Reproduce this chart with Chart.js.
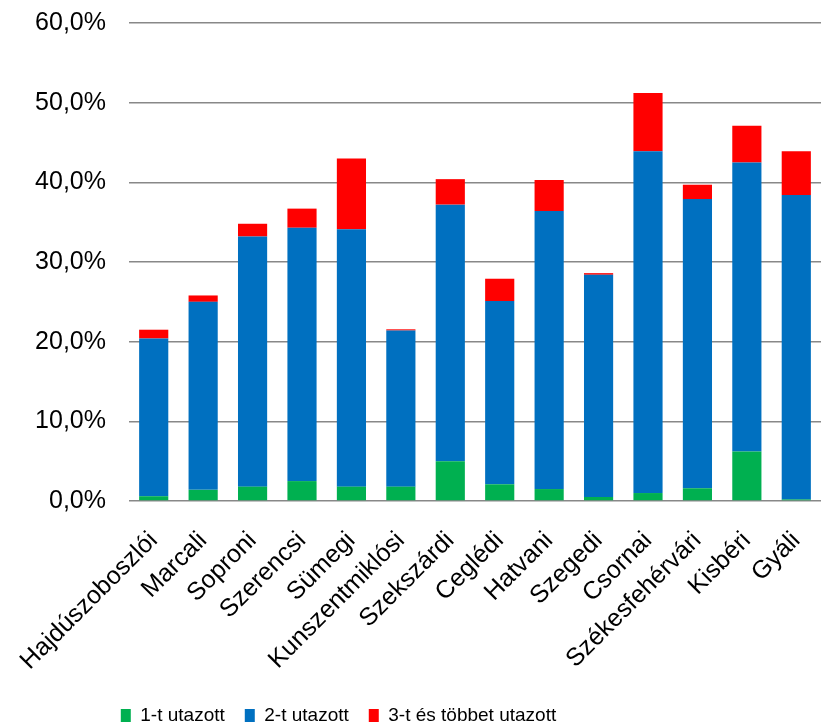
<!DOCTYPE html>
<html>
<head>
<meta charset="utf-8">
<script src="https://cdn.jsdelivr.net/npm/chart.js@4.4.1/dist/chart.umd.min.js"></script>
<style>
	body { margin: 0; background: #fff; }
	canvas { display: block; }
</style>
</head>
<body>
<canvas id="travelChart" width="821" height="725"></canvas>
<script>
	// Kategóriák (járások)
	var categories = ["Hajdúszoboszlói", "Marcali", "Soproni", "Szerencsi", "Sümegi", "Kunszentmiklósi",
		"Szekszárdi", "Ceglédi", "Hatvani", "Szegedi", "Csornai", "Székesfehérvári", "Kisbéri", "Gyáli"];

	// Értékek (%)
	var once = [0.6, 1.4, 1.8, 2.5, 1.8, 1.8, 5.0, 2.1, 1.5, 0.5, 1.0, 1.6, 6.2, 0.2];
	var twice = [19.8, 23.6, 31.4, 31.8, 32.3, 19.6, 32.2, 23.0, 34.9, 27.9, 42.9, 36.3, 36.3, 38.2];
	var threeOrMore = [1.1, 0.8, 1.6, 2.4, 8.9, 0.15, 3.2, 2.8, 3.9, 0.2, 7.3, 1.8, 4.6, 5.5];

	var seriesNames = ["1-t utazott", "2-t utazott", "3-t és többet utazott"];
	var yTicks = [0, 10, 20, 30, 40, 50, 60];

	var FONT = "'Liberation Sans', Arial, sans-serif";
	var PLOT_BOTTOM = 501;
	var PAD_BOTTOM = 2;

	// legend shifted left / down like in the original
	var legendShift = {
		id: 'legendShift',
		afterLayout: function(chart) {
			chart.legend.left -= 72;
			chart.legend.right -= 72;
			chart.legend.top += 12;
			chart.legend.bottom += 12;
		}
	};

	var ctx = document.getElementById("travelChart");
	var travelChart = new Chart(ctx, {
		type: 'bar',
		data: {
			labels: categories,
			datasets: [{
				label: seriesNames[0],
				data: once,
				backgroundColor: '#00B050'
			}, {
				label: seriesNames[1],
				data: twice,
				backgroundColor: '#0070C0'
			}, {
				label: seriesNames[2],
				data: threeOrMore,
				backgroundColor: '#FF0000'
			}]
		},
		options: {
			responsive: false,
			animation: false,
			datasets: {
				bar: {
					categoryPercentage: 1,
					barPercentage: 0.59
				}
			},
			layout: {
				padding: { top: 23, right: 0, left: 0, bottom: PAD_BOTTOM }
			},
			scales: {
				x: {
					stacked: true,
					grid: { display: false, tickLength: 25 },
					border: { display: false },
					ticks: {
						minRotation: 45,
						maxRotation: 45,
						autoSkip: false,
						padding: 0,
						color: '#000',
						font: { family: FONT, size: 25 }
					},
					afterFit: function(scale) {
						scale.height = 725 - PAD_BOTTOM - scale.chart.legend.height - PLOT_BOTTOM;
					}
				},
				y: {
					stacked: true,
					min: 0,
					max: 60,
					afterBuildTicks: function(scale) {
						scale.ticks = yTicks.map(function(v) { return { value: v }; });
					},
					grid: {
						color: '#888888',
						lineWidth: 1.5,
						tickLength: 23,
						tickColor: 'rgba(0,0,0,0)'
					},
					border: { display: false },
					ticks: {
						padding: 0,
						color: '#000',
						font: { family: FONT, size: 25 },
						callback: function(value) {
							return value.toFixed(1).replace('.', ',') + '%';
						}
					},
					afterFit: function(scale) {
						scale.width = 129;
					}
				}
			},
			plugins: {
				tooltip: { enabled: false },
				legend: {
					position: 'bottom',
					labels: {
						boxWidth: 10,
						boxHeight: 13,
						padding: 20,
						color: '#000',
						font: { family: FONT, size: 19 }
					}
				}
			}
		},
		plugins: [legendShift]
	});
</script>
</body>
</html>
